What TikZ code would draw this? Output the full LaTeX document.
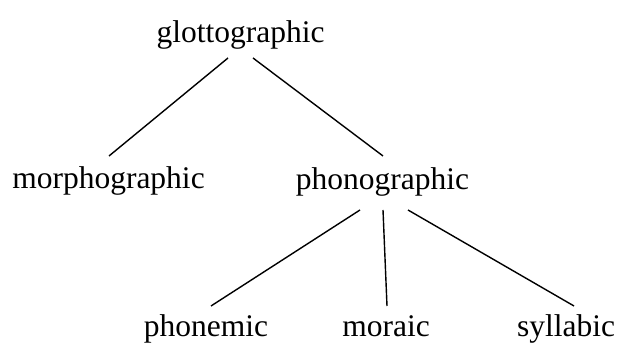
\documentclass[tikz,border=0pt]{standalone}
\usepackage{fontspec}
\setmainfont{Liberation Serif}
\begin{document}
\begin{tikzpicture}[x=1pt,y=1pt,
  lbl/.style={anchor=base,inner sep=0pt,font=\fontsize{31.5}{38}\selectfont},
  edge/.style={line width=1.4pt}]
\useasboundingbox (0,0) rectangle (624,347);
\node[lbl] (g) at (240.5,304) {glottographic};
\node[lbl] (m) at (108.5,158) {morphographic};
\node[lbl] (p) at (382.5,157) {phonographic};
\node[lbl] (pm) at (206,10) {phonemic};
\node[lbl] (mo) at (386,10) {moraic};
\node[lbl] (sy) at (566,10) {syllabic};
\draw[edge] ([shift={(-12.5,-15)}]g.base) -- ([shift={(0.5,33)}]m.base);
\draw[edge] ([shift={(12.5,-15)}]g.base) -- ([shift={(0.5,34)}]p.base);
\draw[edge] ([shift={(-22.5,-20)}]p.base) -- ([shift={(5,31)}]pm.base);
\draw[edge] ([shift={(0.5,-20)}]p.base) -- ([shift={(1,31)}]mo.base);
\draw[edge] ([shift={(25.5,-20)}]p.base) -- ([shift={(8,31)}]sy.base);
\end{tikzpicture}
\end{document}
